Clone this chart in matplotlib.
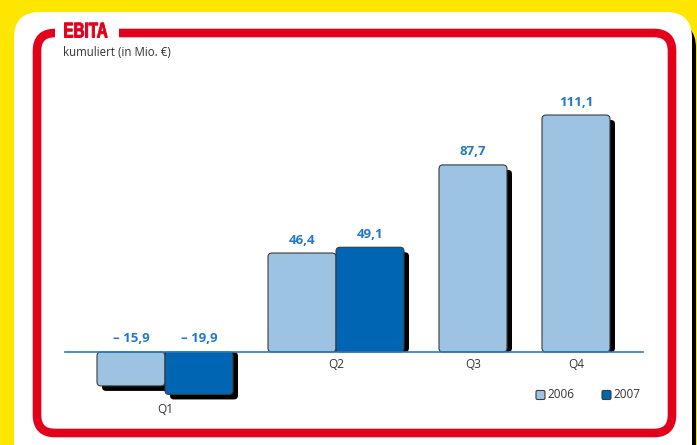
import matplotlib.pyplot as plt
from matplotlib.patches import FancyBboxPatch, Rectangle, PathPatch
from matplotlib.textpath import TextPath
from matplotlib.font_manager import FontProperties
from matplotlib.transforms import Affine2D

# data
quarters = ["Q1", "Q2", "Q3", "Q4"]
ebita_2006 = [-15.9, 46.4, 87.7, 111.1]
ebita_2007 = [-19.9, 49.1, None, None]
series_names = ["2006", "2007"]

# layout (pixel units on the x axis)
W, H = 697, 445
group_x = [165, 336, 507, 610]
bar_w = 68
px_per_unit = 2.133
base_px = 352

c06 = "#9dc3e2"
c07 = "#0066b3"
lbl_col = "#1f78c8"
red = "#e2001a"
yellow = "#ffe600"
txt = "#333333"
sans = ["Open Sans", "DejaVu Sans"]

fig = plt.figure(figsize=(W / 100, H / 100), dpi=100)
fig.patch.set_facecolor(yellow)

# background decorations in pixel coordinates
bg = fig.add_axes([0, 0, 1, 1])
bg.set_xlim(0, W)
bg.set_ylim(H, 0)
bg.axis("off")
bg.add_patch(FancyBboxPatch((17, 22), 679, 470, boxstyle="round,pad=0,rounding_size=26",
                            fc="black", ec="none"))
bg.add_patch(FancyBboxPatch((14, 12), 678, 470, boxstyle="round,pad=0,rounding_size=26",
                            fc="white", ec="none"))
bg.add_patch(FancyBboxPatch((37, 33), 635, 400, boxstyle="round,pad=0,rounding_size=18",
                            fc="none", ec=red, lw=6.2))
bg.add_patch(Rectangle((55, 25), 64, 16, fc="white", ec="none"))

# condensed title: bold glyph outlines squeezed horizontally
tp = TextPath((0, 0), "EBITA", size=21,
              prop=FontProperties(family="Liberation Sans", weight="bold"))
tr = Affine2D().scale(0.72, -1.02).translate(63.5, 37.5)
bg.add_patch(PathPatch(tr.transform_path(tp), fc=red, ec=red, lw=0.7))

bg.text(63, 53, "kumuliert (in Mio. €)", color=txt, fontsize=8.3,
        family=sans, va="center", ha="left")

# chart axes, x in pixels, y in Mio. €
ax = fig.add_axes([0, 0, 1, 1])
ax.patch.set_alpha(0)
ax.axis("off")
ax.set_xlim(0, W)
ax.set_ylim(-(H - base_px) / px_per_unit, base_px / px_per_unit)

sh_dx = 5
sh_dy = 5 / px_per_unit
asp = 1 / px_per_unit


def fmt(v):
    s = f"{abs(v):.1f}".replace(".", ",")
    return ("– " + s) if v < 0 else s


def draw_bar(x0, v, color):
    top = v - sh_dy
    ax.add_patch(FancyBboxPatch((x0 + sh_dx, min(0, top)), bar_w, abs(top),
                                boxstyle="round,pad=0,rounding_size=4",
                                mutation_aspect=asp, fc="black", ec="none", zorder=2))
    ax.add_patch(FancyBboxPatch((x0, min(0, v)), bar_w, abs(v),
                                boxstyle="round,pad=0,rounding_size=4",
                                mutation_aspect=asp, fc=color, ec="#3a3a3a", lw=0.8, zorder=3))
    ly = v + 13 / px_per_unit if v > 0 else 14 / px_per_unit
    ax.text(x0 + bar_w / 2, ly, fmt(v), color=lbl_col, fontsize=9.5, fontweight="bold",
            family=sans, ha="center", va="center", zorder=5)


for i, q in enumerate(quarters):
    gx = group_x[i]
    v06, v07 = ebita_2006[i], ebita_2007[i]
    draw_bar(gx - bar_w, v06, c06)
    if v07 is not None:
        draw_bar(gx, v07, c07)
        lx = gx
    else:
        lx = gx - bar_w / 2
    low = min(v06, v07 if v07 is not None else 0, 0)
    ly = (low - sh_dy - 10 / px_per_unit) if low < 0 else -13 / px_per_unit
    ax.text(lx, ly, q, color=txt, fontsize=8.5, family=sans, ha="center", va="center")

ax.plot([65, 643], [0, 0], color="#2a7ac0", lw=1.2, zorder=4)

# legend
for name, col, x in zip(series_names, [c06, c07], [536, 602]):
    yc = -(395 - base_px) / px_per_unit
    ax.add_patch(FancyBboxPatch((x, yc - 4.5 / px_per_unit), 9, 9 / px_per_unit,
                                boxstyle="round,pad=0,rounding_size=1.5", mutation_aspect=asp,
                                fc=col, ec="#3a3a3a", lw=0.8))
    ax.text(x + 11.5, yc, name, color=txt, fontsize=8.5, family=sans, ha="left", va="center")

fig.savefig("out.png", dpi=100, facecolor=yellow)
